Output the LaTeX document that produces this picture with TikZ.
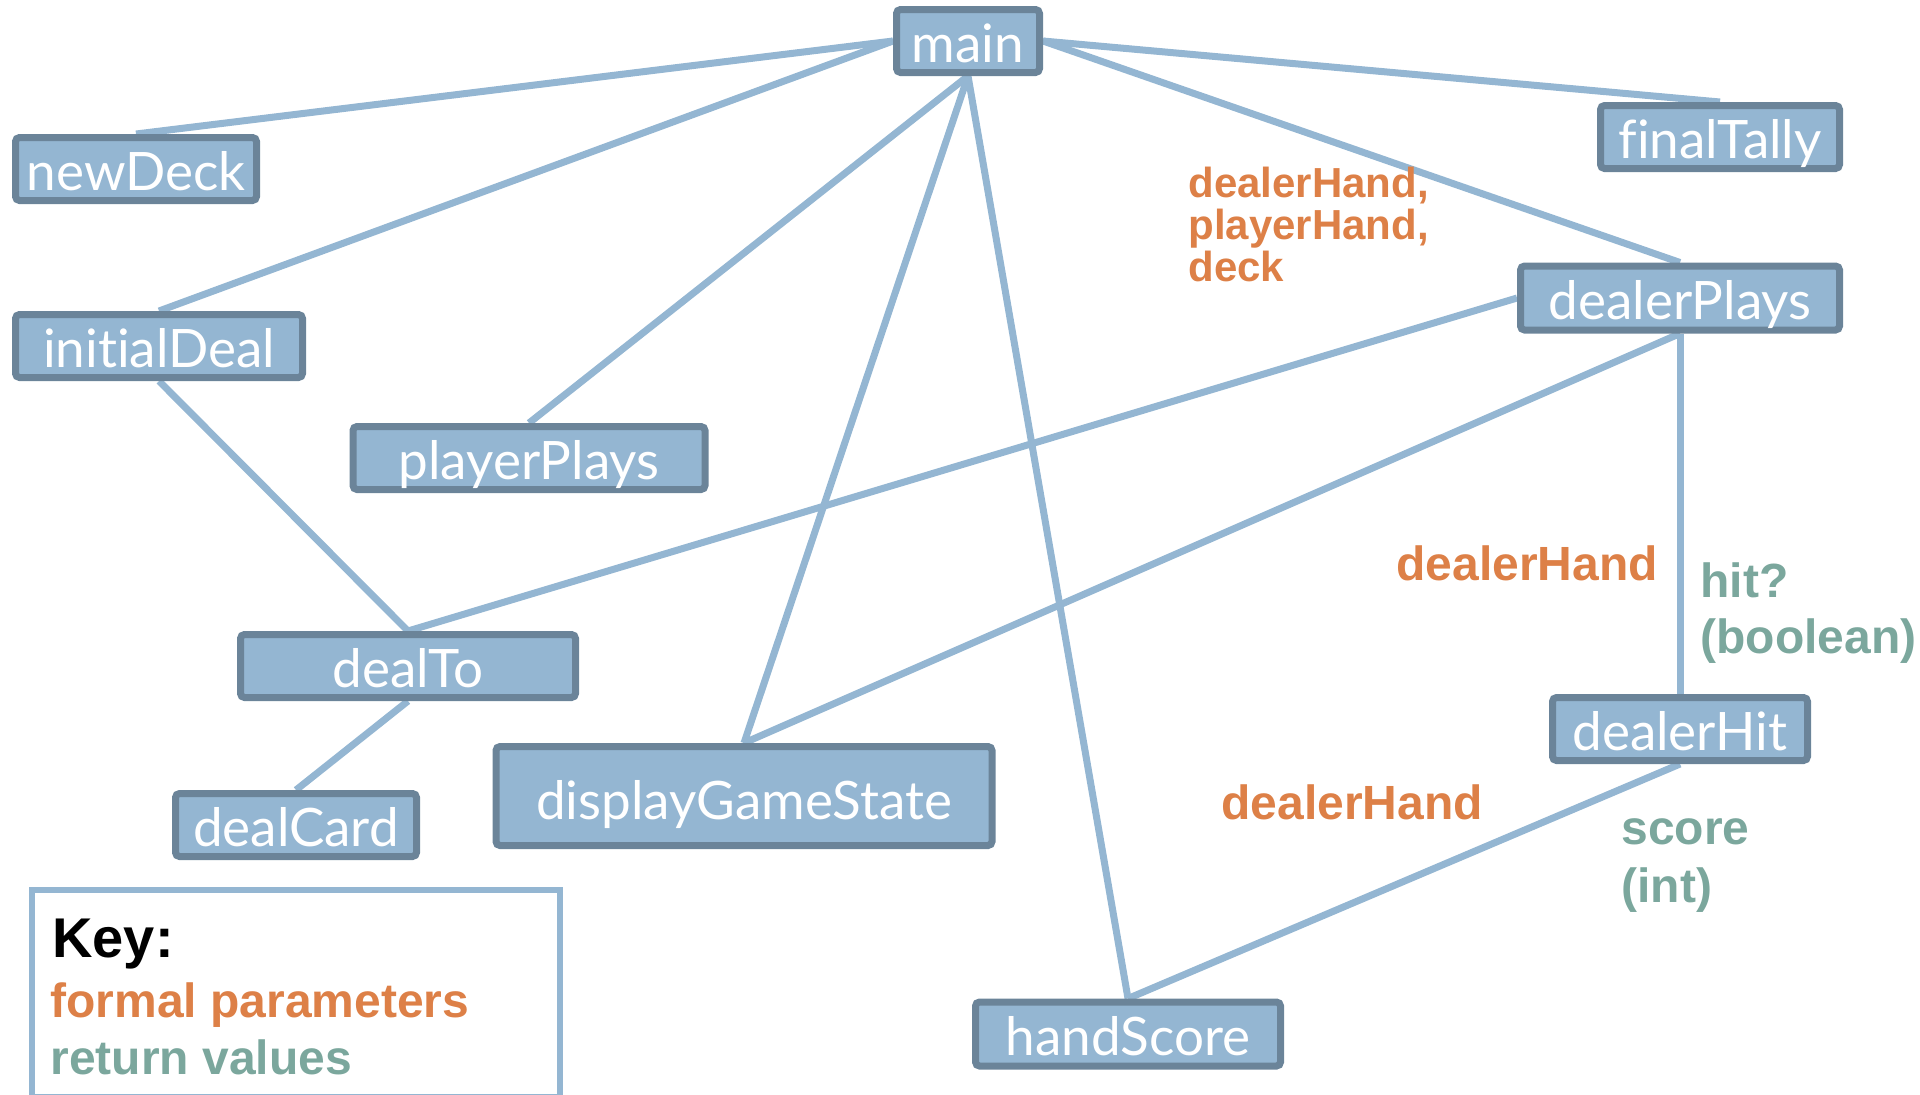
\documentclass[tikz,border=0pt]{standalone}
\usepackage{fontspec}
\setmainfont{Liberation Sans}
\newfontfamily\boxfont[Ligatures=CommonOff]{Lato}
\usepackage{tikz}
\usetikzlibrary{
    positioning,
    backgrounds
}
\definecolor{callBlue}{RGB}{148, 182, 210}
\definecolor{frameBlue}{RGB}{107, 132, 153}
\definecolor{paramOrange}{RGB}{221, 128, 71}
\definecolor{returnGreen}{RGB}{123, 167, 157}

\tikzset{
    fn/.style={draw=frameBlue, fill=callBlue, line width=3.5pt, rounded corners=2pt,
        text=white, font=\boxfont\fontsize{26.5}{26.5}\selectfont,
        inner sep=0pt, minimum height=31.5pt, text height=21pt, text depth=0pt},
    call/.style={callBlue, line width=3.5pt},
    param/.style={paramOrange, font=\bfseries\fontsize{24}{28}\selectfont, inner sep=0pt, align=left},
    retval/.style={returnGreen, font=\bfseries\fontsize{24}{28}\selectfont, inner sep=0pt, align=left}
}

\begin{document}
\begin{tikzpicture}[x=0.5pt, y=-0.5pt]
        \useasboundingbox (0,0) rectangle (1920,1094);
        % function boxes
        \node[fn, minimum width=71.5pt] (main) at (968,41) {main};
        \node[fn, minimum width=120.5pt] (newDeck) at (136,169) {newDeck};
        \node[fn, minimum width=119.5pt] (finalTally) at (1720,137) {finalTally};
        \node[fn, minimum width=143.5pt] (initialDeal) at (159,346) {initialDeal};
        \node[fn, minimum width=159.5pt, minimum height=32pt] (dealerPlays) at (1680,298) {dealerPlays};
        \node[fn, minimum width=176pt] (playerPlays) at (529,458) {playerPlays};
        \node[fn, minimum width=167.5pt] (dealTo) at (408,666) {dealTo};
        \node[fn, minimum width=127.5pt] (dealerHit) at (1680,729) {dealerHit};
        \node[fn, minimum width=120.5pt] (dealCard) at (296,825) {dealCard};
        \node[fn, minimum width=248pt, minimum height=49.5pt, text height=23pt] (displayGameState) at (744,796) {displayGameState};
        \node[fn, minimum width=152.5pt, minimum height=32pt] (handScore) at (1128,1034) {handScore};

        \begin{scope}[on background layer]
            \draw[call] (main.west) -- (newDeck.north);
            \draw[call] (main.west) -- (initialDeal.north);
            \draw[call] (main.south) -- (playerPlays.north);
            \draw[call] (main.south) -- (displayGameState.north);
            \draw[call] (main.south) -- (handScore.north);
            \draw[call] (main.east) -- (finalTally.north);
            \draw[call] (main.east) -- (dealerPlays.north);
            \draw[call] (dealerPlays.west) -- (dealTo.north);
            \draw[call] (dealerPlays.south) -- (displayGameState.north);
            \draw[call] (dealerPlays.south) -- (dealerHit.north);
            \draw[call] (initialDeal.south) -- (dealTo.north);
            \draw[call] (dealTo.south) -- (dealCard.north);
            \draw[call] (dealerHit.south) -- (handScore.north);
        \end{scope}

        % parameters and return values
        \node[param, anchor=north west, font=\bfseries\fontsize{21}{21}\selectfont] (playArgs) at (1188,166.5) {dealerHand,\\playerHand,\\deck};
        \node[param, anchor=base west] (hitArgs) at (1396,580) {dealerHand};
        \node[retval, anchor=north west] (hitResult) at (1700,562) {hit?\\(boolean)};
        \node[param, anchor=base west] (scoreArgs) at (1221,819) {dealerHand};
        \node[retval, anchor=north west, font=\bfseries\fontsize{24}{29}\selectfont] (scoreResult) at (1621,818) {score\\(int)};

        % key
        \draw[callBlue, line width=3pt] (32,890) rectangle (560,1097);
        \node[anchor=base west, inner sep=0pt, font=\bfseries\fontsize{28}{28}\selectfont] (keyTitle) at (52,957) {Key:};
        \node[param, anchor=base west] (keyParam) at (50,1017) {formal parameters};
        \node[retval, anchor=base west] (keyReturn) at (50,1074) {return values};
    \end{tikzpicture}
\end{document}
